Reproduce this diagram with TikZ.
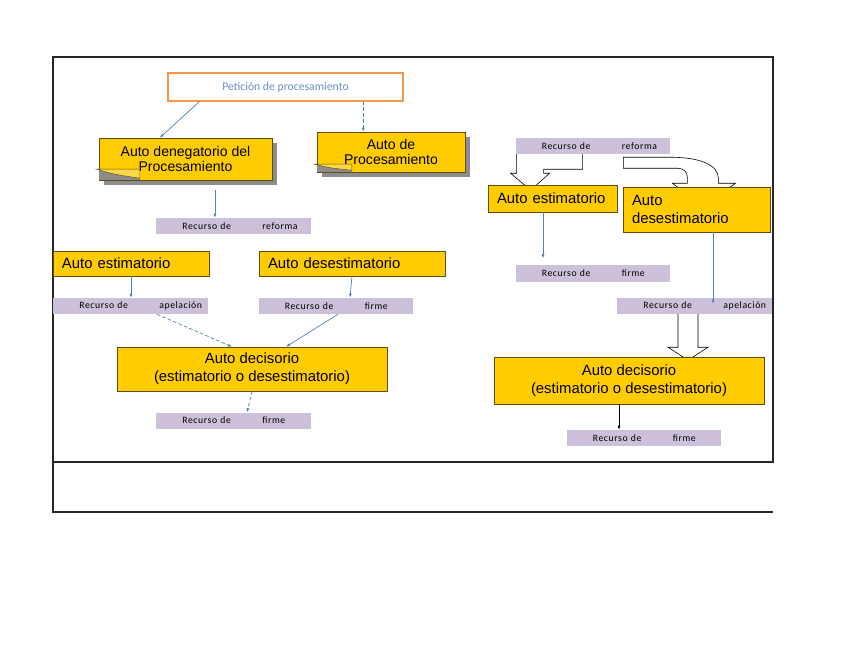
\documentclass[tikz,border=0pt]{standalone}
\usepackage{fontspec}
\usetikzlibrary{arrows, arrows.meta, positioning, calc, shadows, backgrounds}
\newfontfamily\boxfont{Liberation Sans}
\newfontfamily\recfont[LetterSpace=6]{Carlito}
\newfontfamily\petfont{Carlito}
\definecolor{autoyellow}{HTML}{FFCC00}
\definecolor{autoedge}{HTML}{5E4E10}
\definecolor{flapyellow}{HTML}{FFD84A}
\definecolor{notegray}{HTML}{8C8C8C}
\definecolor{recfill}{HTML}{CCC0DA}
\definecolor{arrblue}{HTML}{4F81BD}
\definecolor{petorange}{HTML}{F79646}
\definecolor{pettext}{HTML}{6A8FC8}
\definecolor{framegray}{HTML}{262626}
\tikzset{autobox/.style={draw=autoedge, fill=autoyellow, font=\boxfont\fontsize{12.7}{15.4}\selectfont, inner xsep=0.27cm, inner ysep=2pt, align=left}}
\tikzset{notebox/.style={autobox, font=\boxfont\fontsize{12}{12.8}\selectfont, align=center, drop shadow={shadow xshift=4.5pt, shadow yshift=-4.5pt, fill=notegray, opacity=1}}}
\tikzset{recbox/.style={fill=recfill, font=\recfont\fontsize{8.3}{9}\selectfont, inner xsep=0pt, inner ysep=0pt, minimum height=0.48cm, text width=4.63cm, align=left}}
\tikzset{petbox/.style={draw=petorange, line width=1pt, fill=white, font=\petfont\fontsize{10}{11}\selectfont, text=pettext}}
\tikzset{arr/.style={draw=arrblue, line width=0.6pt, -{Latex[length=3.5pt,width=2.6pt]}}}
\tikzset{blockarr/.style={draw=black, fill=white, line width=0.5pt}}
\newcommand{\rec}[1]{\hspace*{0.78cm}\makebox[2.4cm][l]{Recurso de}#1}

\begin{document}
\begin{tikzpicture}[x=0.03cm, y=-0.03cm]
		\useasboundingbox (0,0) rectangle (848,655);
		\draw[line width=1.2pt, draw=framegray] (53,57) rectangle (773,462);
		\draw[line width=1.5pt, draw=framegray] (53,462) -- (53,512) -- (773,512);
		
		% left side
		\node[petbox, minimum width=7.05cm, minimum height=0.84cm] (pet) at (285.5,87) {Petición de procesamiento};
		
		\node[notebox, minimum width=5.19cm, minimum height=1.26cm] (deneg) at (185.5,159) {Auto denegatorio del\\Procesamiento};
		\node[notebox, minimum width=4.44cm, minimum height=1.2cm] (autoproc) at (391,152) {Auto de\\Procesamiento};
		
		\node[recbox] (recRefL) at (233.5,226) {\rec{reforma}};
		
		\node[autobox, text width=4.14cm, minimum height=0.75cm] (estL) at (131,263.5) {Auto estimatorio};
		\node[autobox, text width=5.04cm, minimum height=0.75cm] (desL) at (352,263.5) {Auto desestimatorio};
		
		\node[recbox] (recApeL) at (130.5,306) {\rec{apelación}};
		\node[recbox] (recFirL) at (336,306) {\rec{firme}};
		
		\node[autobox, align=center, minimum width=8.1cm, minimum height=1.32cm] (decL) at (252,369) {Auto decisorio\\(estimatorio o desestimatorio)};
		\node[recbox] (recFirLb) at (233.5,420.5) {\rec{firme}};
		
		% right side
		\node[recbox] (recRefR) at (593,146) {\rec{reforma}};
		\node[autobox, text width=3.33cm, minimum height=0.81cm] (estR) at (552.5,198.5) {Auto estimatorio};
		\node[autobox, text width=3.87cm, minimum height=1.35cm] (desR) at (696.5,209.5) {Auto\\desestimatorio};
		\node[recbox] (recFirR) at (593,273.5) {\rec{firme}};
		\node[recbox] (recApeR) at (694.5,306) {\rec{apelación}};
		\node[autobox, align=center, minimum width=8.1cm, minimum height=1.41cm] (decR) at (629,380.5) {Auto decisorio\\(estimatorio o desestimatorio)};
		\node[recbox] (recFirRb) at (644,438) {\rec{firme}};
		
		% curled corners of the notes
		\foreach \n/\fw/\fh in {deneg/41/11, autoproc/35/8} {
			\fill[notegray] (\n.south west) rectangle ++(\fw,-\fh);
			\draw[draw=autoedge, fill=flapyellow, line width=0.4pt] ($(\n.south west)+(-2,-\fh)$) -- ($(\n.south west)+(\fw,-\fh)$) -- ($(\n.south west)+(\fw,-2)$) .. controls ($(\n.south west)+(0.35*\fw,-0.55*\fh)$) .. ($(\n.south west)+(-2,-\fh)$) -- cycle;
		}
		
		\draw[arr] ([xshift=0.96cm]pet.south west) -- ([xshift=1.83cm]deneg.north west);
		\draw[arr, densely dashed] ([xshift=2.33cm]pet.south) -- ([xshift=2.33cm]pet.south |- autoproc.north);
		\draw[arr, shorten <=0.3cm] ([xshift=-0.555cm]recRefL.north |- deneg.south) -- ([xshift=-0.555cm]recRefL.north);
		\draw[arr] (estL.south) -- (estL.south |- recApeL.north);
		\draw[arr] (desL.south) -- ([xshift=0.42cm]recFirL.north);
		\draw[arr, densely dashed] ([xshift=0.795cm]recApeL.south) -- ([xshift=-0.6cm]decL.north);
		\draw[arr] ([xshift=0.06cm]recFirL.south) -- ([xshift=1.02cm]decL.north);
		\draw[arr, densely dashed] (decL.south) -- ([xshift=0.405cm]recFirLb.north);
		
		\draw[arr, shorten >=0.21cm] ([xshift=-0.285cm]estR.south) -- ([xshift=-0.285cm]estR.south |- recFirR.north);
		\draw[arr, shorten >=2pt] ([xshift=0.495cm]desR.south) -- ([xshift=0.495cm]desR.south |- recApeR.center);
		\draw[arr, draw=black] ([xshift=-0.3cm]decR.south) -- ([xshift=-0.3cm]decR.south |- recFirRb.north);
		
		% hollow block arrows, behind the boxes
		\begin{scope}[on background layer]
			\begin{scope}[shift={(recRefR.south west)}]
				\draw[blockarr] (1,-1) -- (1,19) -- (-5,19) -- (15,36) -- (34,19) -- (28,19) -- (28,15) -- (67,15) -- (67,-1) -- cycle;
			\end{scope}
			\begin{scope}[shift={(recRefR.south east)}]
				\draw[blockarr] (-47,3) -- (0,3) .. controls (30,3) and (48,11) .. (48,24) -- (48,29) -- (65,29) -- (33,53) -- (2,29) -- (17,29) -- (17,24) .. controls (17,18) and (14,14) .. (7,14) -- (-47,14) -- cycle;
			\end{scope}
			\begin{scope}[shift={(recApeR.south)}]
				\draw[blockarr] (-16.5,-1) -- (-16.5,33) -- (-26.5,33) -- (-6.5,46) -- (13.5,33) -- (3.5,33) -- (3.5,-1) -- cycle;
			\end{scope}
		\end{scope}
	\end{tikzpicture}
\end{document}
